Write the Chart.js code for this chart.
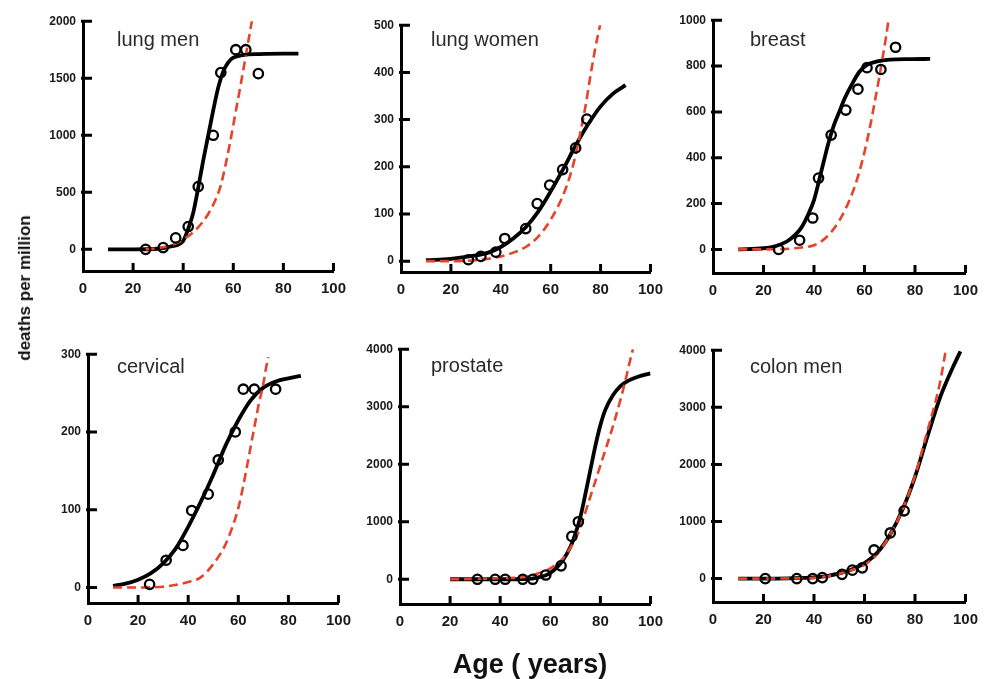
<!DOCTYPE html>
<html>
<head>
<meta charset="utf-8">
<script src="https://cdn.jsdelivr.net/npm/chart.js@4.4.1/dist/chart.umd.min.js"></script>
<style>
    body { margin: 0; background: #fff; width: 995px; height: 679px; position: relative; overflow: hidden; font-family: "Liberation Sans", Arial, sans-serif; }
    canvas { position: absolute; }
    #ylab { position: absolute; left: 25px; top: 288px; transform: translate(-50%, -50%) rotate(-90deg); font-weight: bold; font-size: 17px; color: #111; white-space: nowrap; }
    #xlab { position: absolute; left: 530px; top: 664px; transform: translate(-50%, -50%); font-weight: bold; font-size: 27px; color: #111; white-space: nowrap; }
</style>
</head>
<body>
<canvas id="p1"></canvas>
<canvas id="p2"></canvas>
<canvas id="p3"></canvas>
<canvas id="p4"></canvas>
<canvas id="p5"></canvas>
<canvas id="p6"></canvas>
<div id="ylab">deaths per million</div>
<div id="xlab">Age ( years)</div>
<script>
// x ticks shared by all panels
const ageTicks = [0, 20, 40, 60, 80, 100];

// lung men
const lungMenObsAge = [25, 32, 37, 42, 46, 52, 55, 61, 65, 70];
const lungMenObs = [0, 15, 100, 200, 550, 1000, 1550, 1750, 1750, 1540];
const lungMenFitAge = [10, 20, 30, 35, 40, 42, 44, 46, 48, 50, 52, 54, 56, 58, 60, 63, 66, 70, 80, 86];
const lungMenFit = [0, 0, 5, 25, 75, 180, 320, 540, 780, 1000, 1220, 1420, 1560, 1640, 1680, 1700, 1710, 1712, 1715, 1715];
const lungMenModelAge = [25, 30, 35, 40, 45, 50, 53, 55, 57, 59, 61, 63, 65, 67, 68];
const lungMenModel = [0, 10, 35, 85, 170, 310, 440, 560, 750, 970, 1210, 1450, 1700, 1950, 2080];
const lungMenTicks = [0, 500, 1000, 1500, 2000];

// lung women
const lungWomenObsAge = [27, 32, 38, 41.6, 50, 54.6, 59.6, 64.8, 70, 74.5];
const lungWomenObs = [3, 10, 19, 48, 69, 122, 161, 194, 240, 301];
const lungWomenFitAge = [10, 20, 30, 35, 40, 45, 50, 55, 60, 65, 70, 75, 80, 85, 90];
const lungWomenFit = [2, 5, 12, 18, 30, 48, 72, 105, 148, 195, 245, 290, 328, 355, 373];
const lungWomenModelAge = [10, 20, 30, 35, 40, 45, 50, 55, 60, 65, 68, 70, 72, 74, 76, 78, 80];
const lungWomenModel = [0, 0, 2, 5, 10, 18, 30, 52, 88, 140, 185, 225, 275, 330, 395, 455, 505];
const lungWomenTicks = [0, 100, 200, 300, 400, 500];

// breast
const breastObsAge = [26, 34.3, 39.5, 41.8, 46.8, 52.6, 57.4, 61, 66.5, 72.3];
const breastObs = [0, 40, 137, 311, 499, 608, 699, 793, 785, 882];
const breastFitAge = [10, 20, 25, 30, 35, 38, 40, 42, 44, 46, 48, 50, 52, 55, 58, 61, 65, 70, 78, 86];
const breastFit = [0, 5, 15, 40, 95, 160, 215, 300, 390, 475, 545, 600, 655, 720, 775, 805, 820, 828, 830, 831];
const breastModelAge = [10, 20, 30, 35, 40, 45, 50, 55, 58, 60, 62, 64, 66, 67, 68.5, 69.5];
const breastModel = [0, 0, 3, 8, 18, 54, 125, 240, 340, 425, 525, 640, 760, 825, 925, 1000];
const breastTicks = [0, 200, 400, 600, 800, 1000];

// cervical
const cervicalObsAge = [24.6, 31.2, 37.9, 41.4, 48, 52, 58.8, 62, 66.4, 74.9];
const cervicalObs = [4, 35, 54, 99, 120, 164, 200, 255, 255, 255];
const cervicalFitAge = [10, 15, 20, 25, 30, 35, 40, 45, 50, 55, 60, 65, 70, 75, 80, 85];
const cervicalFit = [2, 5, 10, 18, 31, 50, 78, 110, 145, 183, 215, 241, 257, 265, 269, 272];
const cervicalModelAge = [10, 20, 30, 40, 45, 50, 55, 58, 60, 62, 64, 66, 68, 70, 71, 72];
const cervicalModel = [0, 0, 1, 7, 13, 30, 56, 81, 102, 131, 165, 199, 233, 262, 281, 296];
const cervicalTicks = [0, 100, 200, 300];

// prostate
const prostateObsAge = [30.9, 38, 42, 49, 53, 58.2, 64.3, 68.6, 71.2];
const prostateObs = [0, 0, 0, 0, 0, 74, 233, 745, 1000];
const prostateFitAge = [20, 30, 40, 50, 55, 60, 65, 68, 70, 72, 74, 76, 78, 80, 82, 85, 88, 91, 95, 100];
const prostateFit = [0, 0, 0, 5, 30, 110, 330, 560, 790, 1080, 1480, 1900, 2320, 2680, 2950, 3200, 3360, 3450, 3520, 3580];
const prostateModelAge = [20, 30, 40, 50, 55, 60, 65, 70, 72, 75, 80, 85, 88, 90, 92, 93];
const prostateModel = [0, 5, 17, 40, 100, 190, 360, 700, 900, 1300, 1980, 2660, 3120, 3460, 3830, 4000];
const prostateTicks = [0, 1000, 2000, 3000, 4000];

// colon men
const colonObsAge = [20.7, 33.2, 39.5, 43.3, 51.1, 55.2, 59.1, 63.8, 70.2, 75.7];
const colonObs = [0, 0, 0, 17, 74, 148, 188, 502, 799, 1187];
const colonFitAge = [10, 20, 30, 40, 45, 50, 55, 60, 65, 70, 75, 80, 85, 90, 95, 98];
const colonFit = [0, 0, 5, 20, 45, 90, 160, 270, 450, 760, 1200, 1780, 2500, 3180, 3700, 3980];
const colonModelAge = [10, 20, 30, 40, 45, 50, 55, 60, 65, 70, 75, 80, 85, 88, 90, 92.2];
const colonModel = [0, 0, 3, 15, 40, 85, 150, 240, 430, 760, 1200, 1800, 2600, 3080, 3450, 4000];
const colonTicks = [0, 1000, 2000, 3000, 4000];

const RED = '#e5432b';
const YW = 50, XH = 40, PAD_T = 10, PAD_R = 18;

function pairs(xs, ys) {
    return xs.map((x, i) => ({ x: x, y: ys[i] }));
}

// inward tick marks + panel name
const panelDecor = {
    id: 'panelDecor',
    afterDraw(chart, args, opts) {
        const { ctx, chartArea, scales: { x, y } } = chart;
        ctx.save();
        ctx.strokeStyle = '#000';
        ctx.lineWidth = 3;
        ctx.beginPath();
        y.ticks.forEach(t => {
            const py = y.getPixelForValue(t.value);
            ctx.moveTo(chartArea.left - 2, py);
            ctx.lineTo(chartArea.left + 9, py);
        });
        x.ticks.forEach(t => {
            if (t.value === 0) return;
            const px = x.getPixelForValue(t.value);
            ctx.moveTo(px, chartArea.bottom);
            ctx.lineTo(px, chartArea.bottom - 8);
        });
        ctx.stroke();
        ctx.fillStyle = '#2a2a2a';
        ctx.font = '20px "Liberation Sans", Arial, sans-serif';
        ctx.textBaseline = 'alphabetic';
        ctx.fillText(opts.text, chartArea.left + opts.dx, chartArea.top + opts.dy);
        ctx.restore();
    }
};

function makePanel(id, area, name, dx, dy, yMin, yTicks, obsAge, obs, fitAge, fit, modelAge, model) {
    const cv = document.getElementById(id);
    const [l, t, r, b] = area;
    cv.width = (r - l) + YW + PAD_R;
    cv.height = (b - t) + PAD_T + XH;
    cv.style.left = (l - YW) + 'px';
    cv.style.top = (t - PAD_T) + 'px';

    new Chart(cv, {
        type: 'scatter',
        data: {
            datasets: [
                {
                    data: pairs(obsAge, obs),
                    pointStyle: 'circle',
                    pointRadius: 4.7,
                    pointBorderWidth: 2.3,
                    pointBorderColor: '#000',
                    pointBackgroundColor: 'rgba(255,255,255,0)',
                    order: 0
                },
                {
                    data: pairs(modelAge, model),
                    showLine: true,
                    pointRadius: 0,
                    borderColor: RED,
                    borderWidth: 2.6,
                    borderDash: [9, 5],
                    cubicInterpolationMode: 'monotone',
                    order: 1
                },
                {
                    data: pairs(fitAge, fit),
                    showLine: true,
                    pointRadius: 0,
                    borderColor: '#000',
                    borderWidth: 3.8,
                    cubicInterpolationMode: 'monotone',
                    order: 2
                }
            ]
        },
        options: {
            responsive: false,
            animation: false,
            layout: { autoPadding: false, padding: { top: PAD_T, right: PAD_R, left: 0, bottom: 0 } },
            plugins: {
                legend: { display: false },
                tooltip: { enabled: false },
                panelDecor: { text: name, dx: dx, dy: dy }
            },
            scales: {
                x: {
                    type: 'linear',
                    min: 0,
                    max: 100,
                    afterBuildTicks: s => { s.ticks = ageTicks.map(v => ({ value: v })); },
                    afterFit: s => { s.height = XH; },
                    grid: { drawOnChartArea: false, drawTicks: false },
                    border: { display: true, color: '#000', width: 3 },
                    ticks: {
                        padding: 9,
                        color: '#1a1a1a',
                        maxRotation: 0,
                        callback: v => String(v),
                        font: { family: '"Liberation Sans", Arial, sans-serif', size: 15, weight: 'bold' }
                    }
                },
                y: {
                    type: 'linear',
                    min: yMin,
                    max: yTicks[yTicks.length - 1],
                    afterBuildTicks: s => { s.ticks = yTicks.map(v => ({ value: v })); },
                    afterFit: s => { s.width = YW; },
                    grid: { drawOnChartArea: false, drawTicks: false },
                    border: { display: true, color: '#000', width: 3 },
                    ticks: {
                        padding: 7,
                        color: '#1a1a1a',
                        callback: v => String(v),
                        font: { family: '"Liberation Sans", Arial, sans-serif', size: 12, weight: 'bold' }
                    }
                }
            }
        },
        plugins: [panelDecor]
    });
}

makePanel('p1', [83, 17, 337, 271], 'lung men', 34, 25, -190, lungMenTicks,
    lungMenObsAge, lungMenObs, lungMenFitAge, lungMenFit, lungMenModelAge, lungMenModel);
makePanel('p2', [401, 21, 654, 272], 'lung women', 30, 21, -23, lungWomenTicks,
    lungWomenObsAge, lungWomenObs, lungWomenFitAge, lungWomenFit, lungWomenModelAge, lungWomenModel);
makePanel('p3', [713, 16, 969, 273], 'breast', 37, 26, -103, breastTicks,
    breastObsAge, breastObs, breastFitAge, breastFit, breastModelAge, breastModel);
makePanel('p4', [88, 350, 342, 603], 'cervical', 29, 19, -20, cervicalTicks,
    cervicalObsAge, cervicalObs, cervicalFitAge, cervicalFit, cervicalModelAge, cervicalModel);
makePanel('p5', [400, 345, 654, 604], 'prostate', 31, 23, -430, prostateTicks,
    prostateObsAge, prostateObs, prostateFitAge, prostateFit, prostateModelAge, prostateModel);
makePanel('p6', [713, 346, 969, 602], 'colon men', 37, 23, -410, colonTicks,
    colonObsAge, colonObs, colonFitAge, colonFit, colonModelAge, colonModel);
</script>
</body>
</html>
